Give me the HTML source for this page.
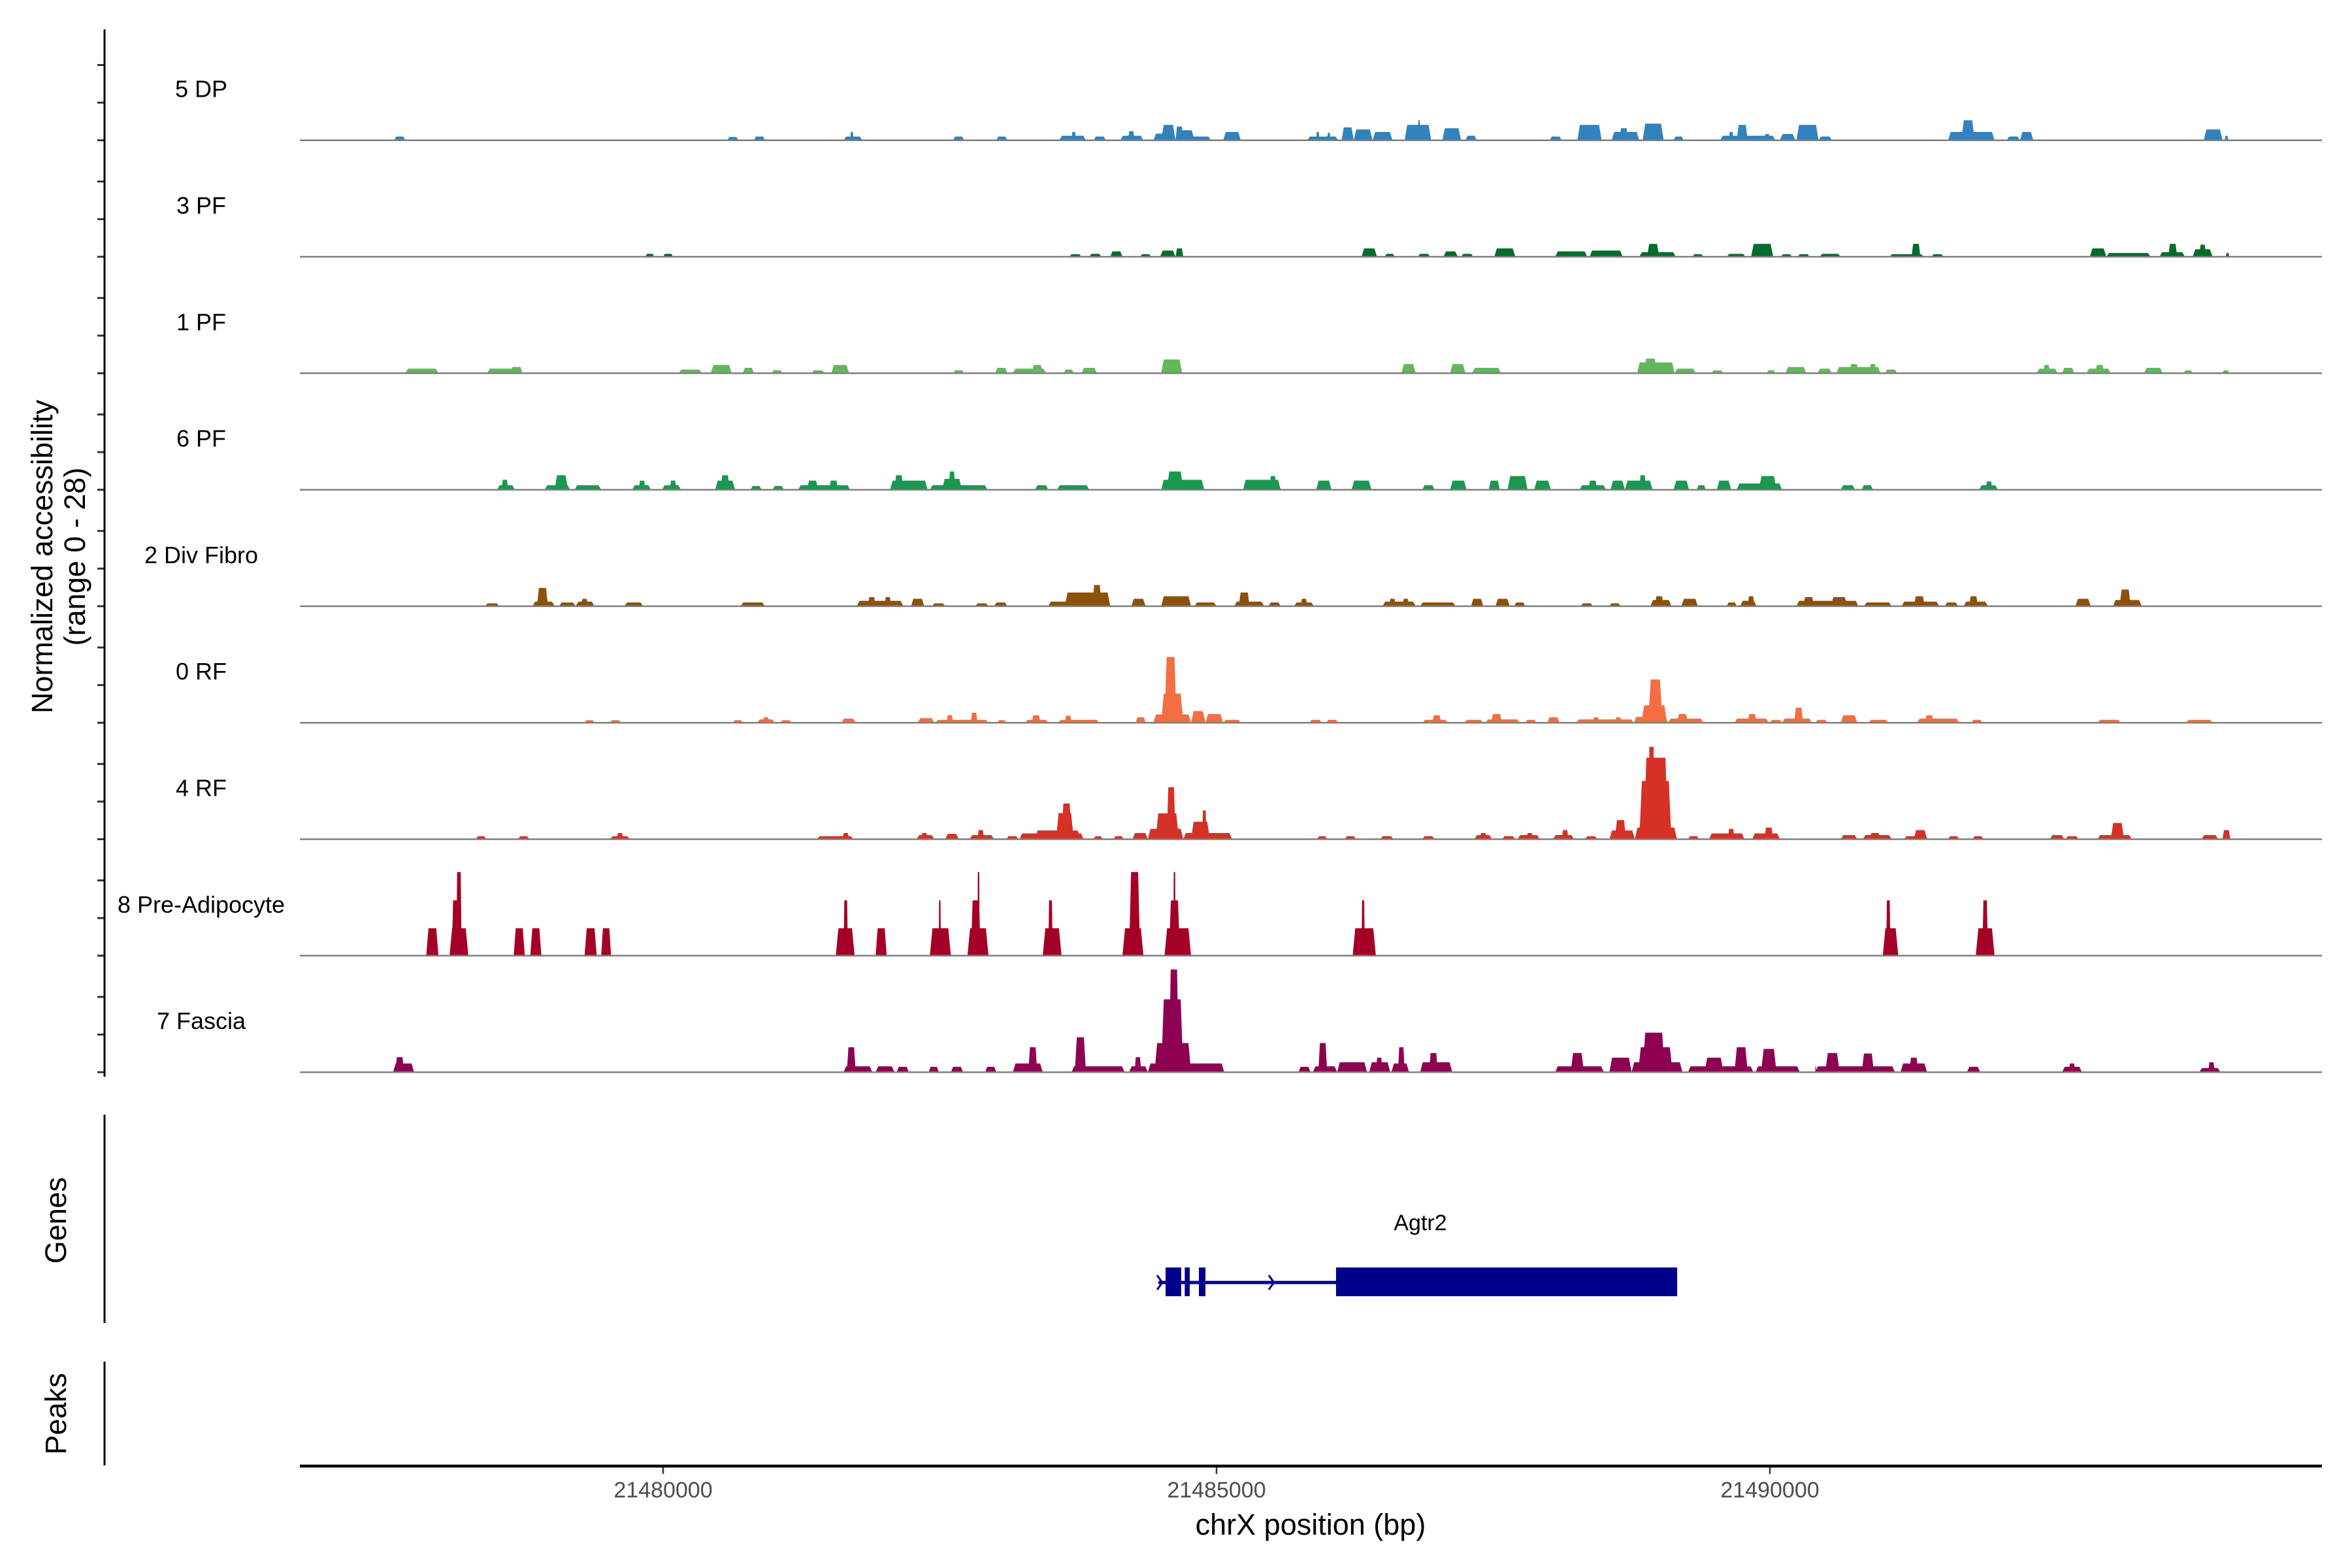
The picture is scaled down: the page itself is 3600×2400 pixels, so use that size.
<!DOCTYPE html>
<html><head><meta charset="utf-8"><style>
html,body{margin:0;padding:0;background:#fff;}
svg{display:block;font-family:"Liberation Sans",Arial,sans-serif;}
</style></head><body>
<svg id="chart" width="3600" height="2400" viewBox="0 0 3600 2400" xmlns="http://www.w3.org/2000/svg">
<rect width="3600" height="2400" fill="#fff"/>
<g id="tracks"></g>
<g id="axes"></g>
<text transform="translate(80,852) rotate(-90)" font-size="45" text-anchor="middle"><tspan x="0" dy="0">Normalized accessibility</tspan><tspan x="0" dy="50">(range 0 - 28)</tspan></text>
<text transform="translate(101,1868) rotate(-90)" font-size="45" text-anchor="middle">Genes</text>
<text transform="translate(101,2164) rotate(-90)" font-size="45" text-anchor="middle">Peaks</text>
<text x="2006" y="2349" font-size="45" text-anchor="middle">chrX position (bp)</text>
<text x="2174" y="1883" font-size="34" text-anchor="middle">Agtr2</text>
</svg>
<script>
// ---- data (positions in kb, values in normalized accessibility 0-28) ----
const trackNames = ["5 DP","3 PF","1 PF","6 PF","2 Div Fibro","0 RF","4 RF","8 Pre-Adipocyte","7 Fascia"];
const trackColors = ["#3182bd","#006d2c","#63b75d","#1a9850","#8c510a","#f46d43","#d73027","#a50026","#8e0152"];
const xTicks = [21480000,21485000,21490000];
const xTickLabels = ["21480000","21485000","21490000"];
const xDomain = [21476718,21494988];
const yRange = [0,28];
const dp5 = [[21477.57,21477.67,0.9],[21480.58,21480.68,0.8],[21480.82,21480.92,0.9],[21481.63,21481.80,0.9],[21481.69,21481.72,2.0],[21482.62,21482.72,0.9],[21483.01,21483.11,0.9],[21483.58,21483.82,1.1],[21483.69,21483.73,2.0],[21483.89,21484.00,0.9],[21484.13,21484.34,1.1],[21484.20,21484.26,2.2],[21484.43,21484.63,1.6],[21484.50,21484.63,3.7],[21484.63,21484.95,0.9],[21484.63,21484.80,2.4],[21484.63,21484.70,3.3],[21485.06,21485.22,2.0],[21485.82,21486.10,0.9],[21485.90,21485.93,2.0],[21486.00,21486.03,1.8],[21486.13,21486.24,3.1],[21486.24,21486.41,2.6],[21486.41,21486.59,2.0],[21486.70,21486.94,3.7],[21486.82,21486.84,4.8],[21487.04,21487.21,2.9],[21487.25,21487.35,1.1],[21488.01,21488.12,0.9],[21488.26,21488.48,3.7],[21488.57,21488.82,2.0],[21488.64,21488.72,2.9],[21488.85,21489.04,4.0],[21489.13,21489.22,0.9],[21489.55,21490.05,1.1],[21489.70,21489.80,3.7],[21489.63,21489.67,2.0],[21489.95,21490.00,1.5],[21490.09,21490.23,1.5],[21490.24,21490.44,3.7],[21490.44,21490.56,0.9],[21491.61,21492.03,2.0],[21491.73,21491.85,4.8],[21492.14,21492.26,0.9],[21492.26,21492.38,2.0],[21493.92,21494.09,2.6],[21494.11,21494.14,1.1]];
const pf3 = [[21479.84,21479.92,0.7],[21480.00,21480.09,0.7],[21483.67,21483.78,0.6],[21483.85,21483.96,0.7],[21484.04,21484.15,1.3],[21484.31,21484.41,0.6],[21484.49,21484.63,1.5],[21484.63,21484.70,2.0],[21486.31,21486.45,2.0],[21486.52,21486.61,0.7],[21486.82,21486.93,0.7],[21487.05,21487.18,1.3],[21487.21,21487.32,0.7],[21487.51,21487.70,2.0],[21488.06,21488.35,1.3],[21488.37,21488.67,1.5],[21488.82,21489.15,1.1],[21488.89,21489.00,3.1],[21489.30,21489.40,0.6],[21489.61,21489.78,0.7],[21489.83,21490.03,3.1],[21490.10,21490.20,0.6],[21490.25,21490.36,0.6],[21490.45,21490.64,0.7],[21491.08,21491.39,0.6],[21491.28,21491.36,3.1],[21491.46,21491.57,0.6],[21492.89,21493.04,2.0],[21493.04,21493.44,0.9],[21493.52,21493.75,1.1],[21493.60,21493.68,3.1],[21493.82,21494.00,1.8],[21493.88,21493.94,2.9],[21494.12,21494.15,0.9]];
const pf1 = [[21477.67,21477.97,1.1],[21478.41,21478.73,1.1],[21478.62,21478.73,1.5],[21480.14,21480.35,0.9],[21480.43,21480.62,2.0],[21480.72,21480.82,1.3],[21480.98,21481.08,0.7],[21481.34,21481.46,0.7],[21481.52,21481.68,2.0],[21482.62,21482.72,0.7],[21483.00,21483.11,1.3],[21483.16,21483.46,1.1],[21483.33,21483.43,2.0],[21483.62,21483.71,0.9],[21483.78,21483.92,1.3],[21484.50,21484.69,3.3],[21486.67,21486.80,2.2],[21487.11,21487.25,2.2],[21487.31,21487.57,1.3],[21488.80,21489.14,2.6],[21488.86,21488.98,3.5],[21489.14,21489.33,1.1],[21489.47,21489.58,0.7],[21489.97,21490.05,0.7],[21490.14,21490.33,1.5],[21490.43,21490.56,1.1],[21490.60,21491.00,1.5],[21490.72,21490.80,2.2],[21490.90,21490.96,2.2],[21491.04,21491.15,0.9],[21492.41,21492.60,1.1],[21492.47,21492.53,2.0],[21492.64,21492.75,1.3],[21492.86,21493.08,1.1],[21492.94,21493.02,2.0],[21493.38,21493.55,1.3],[21493.74,21493.82,0.7],[21494.09,21494.15,0.7]];
const pf6 = [[21478.50,21478.66,1.1],[21478.54,21478.60,2.4],[21478.93,21479.16,1.1],[21479.02,21479.14,3.5],[21479.20,21479.44,1.1],[21479.72,21479.89,1.1],[21479.78,21479.84,2.2],[21479.99,21480.16,1.1],[21480.06,21480.12,2.2],[21480.47,21480.65,2.2],[21480.52,21480.60,3.5],[21480.79,21480.89,0.9],[21480.99,21481.09,0.9],[21481.22,21481.69,1.1],[21481.30,21481.40,2.2],[21481.50,21481.58,2.2],[21482.05,21482.39,2.2],[21482.09,21482.17,3.5],[21482.41,21482.93,1.1],[21482.52,21482.70,2.6],[21482.58,21482.64,4.4],[21483.36,21483.48,1.1],[21483.56,21483.85,1.1],[21484.50,21484.89,2.4],[21484.55,21484.70,4.4],[21485.24,21485.58,2.4],[21485.48,21485.54,3.3],[21485.90,21486.04,2.2],[21486.22,21486.40,2.2],[21486.86,21486.97,1.1],[21487.11,21487.26,2.2],[21487.46,21487.56,2.2],[21487.63,21487.81,3.3],[21487.87,21488.02,2.2],[21488.28,21488.52,1.1],[21488.36,21488.44,2.2],[21488.56,21488.69,2.2],[21488.69,21488.94,2.2],[21488.82,21488.88,3.5],[21489.13,21489.27,2.2],[21489.34,21489.42,1.1],[21489.52,21489.65,2.2],[21489.70,21490.11,1.5],[21489.90,21490.06,3.3],[21490.64,21490.77,1.1],[21490.83,21490.93,1.1],[21491.89,21492.06,1.1],[21491.95,21492.01,2.0]];
const divFibro2 = [[21478.39,21478.52,0.7],[21478.82,21479.02,1.1],[21478.86,21478.96,4.4],[21479.06,21479.21,0.9],[21479.21,21479.38,1.1],[21479.26,21479.32,1.8],[21479.65,21479.82,0.9],[21480.70,21480.92,0.9],[21481.75,21482.17,1.3],[21481.85,21481.92,2.2],[21482.00,21482.06,2.2],[21482.24,21482.36,1.8],[21482.43,21482.55,0.7],[21482.82,21482.94,0.7],[21482.99,21483.11,0.9],[21483.48,21484.04,1.1],[21483.63,21484.04,3.3],[21483.88,21483.96,5.1],[21484.23,21484.36,1.8],[21484.50,21484.77,2.4],[21484.80,21485.00,0.9],[21485.16,21485.43,1.1],[21485.20,21485.30,3.3],[21485.47,21485.58,0.9],[21485.70,21485.88,0.9],[21485.76,21485.82,1.8],[21486.50,21486.80,1.1],[21486.56,21486.62,1.8],[21486.68,21486.74,1.8],[21486.84,21487.16,0.9],[21487.30,21487.41,1.8],[21487.52,21487.65,1.8],[21487.69,21487.79,0.9],[21488.29,21488.40,0.7],[21488.55,21488.65,0.7],[21488.92,21489.11,1.5],[21488.96,21489.04,2.4],[21489.20,21489.35,1.8],[21489.61,21489.70,0.9],[21489.73,21489.88,1.3],[21489.80,21489.86,2.4],[21490.24,21490.80,1.3],[21490.30,21490.40,2.2],[21490.55,21490.70,2.2],[21490.85,21491.10,0.9],[21491.19,21491.53,1.1],[21491.30,21491.40,2.4],[21491.58,21491.70,0.9],[21491.75,21491.97,1.1],[21491.80,21491.88,2.4],[21492.76,21492.90,1.8],[21493.10,21493.36,1.5],[21493.16,21493.26,4.0]];
const rf0 = [[21479.29,21479.38,0.6],[21479.52,21479.62,0.6],[21480.63,21480.72,0.6],[21480.85,21481.01,0.8],[21480.90,21480.96,1.3],[21481.06,21481.16,0.6],[21481.61,21481.74,1.0],[21482.30,21482.45,1.1],[21482.46,21482.94,0.7],[21482.56,21482.62,1.8],[21482.78,21482.84,2.4],[21483.02,21483.10,0.6],[21483.27,21483.48,0.7],[21483.33,21483.41,1.8],[21483.57,21483.94,0.7],[21483.63,21483.69,1.7],[21484.27,21484.36,1.3],[21484.43,21484.77,2.0],[21484.50,21484.70,7.0],[21484.53,21484.64,15.8],[21484.77,21484.90,2.8],[21484.90,21485.06,2.1],[21485.06,21485.22,0.7],[21485.84,21485.95,0.7],[21485.99,21486.10,0.7],[21486.86,21487.09,0.7],[21486.95,21487.03,1.8],[21487.24,21487.41,0.7],[21487.43,21487.74,0.8],[21487.48,21487.58,2.1],[21487.79,21487.89,0.7],[21487.99,21488.10,1.3],[21488.25,21488.77,0.8],[21488.40,21488.46,1.3],[21488.60,21488.66,1.3],[21488.77,21489.08,1.4],[21488.84,21489.07,4.2],[21488.90,21489.03,10.4],[21489.08,21489.40,1.0],[21489.16,21489.26,2.1],[21489.68,21489.99,1.0],[21489.80,21489.88,2.1],[21490.00,21490.11,0.7],[21490.11,21490.38,1.0],[21490.22,21490.30,3.6],[21490.41,21490.52,0.7],[21490.64,21490.79,1.8],[21490.89,21491.07,0.7],[21491.33,21491.71,1.0],[21491.40,21491.48,1.8],[21491.82,21491.92,0.7],[21492.96,21493.17,0.7],[21493.76,21494.00,0.7]];
const rf4 = [[21478.31,21478.40,0.7],[21478.69,21478.79,0.7],[21479.52,21479.70,0.7],[21479.58,21479.64,1.5],[21481.39,21481.72,0.7],[21481.62,21481.68,1.5],[21482.29,21482.45,1.0],[21482.33,21482.39,1.5],[21482.55,21482.67,1.3],[21482.77,21482.99,1.0],[21482.84,21482.90,2.2],[21483.10,21483.21,0.7],[21483.22,21483.80,1.4],[21483.36,21483.77,2.1],[21483.55,21483.71,6.3],[21483.60,21483.69,8.6],[21483.89,21483.97,0.7],[21484.07,21484.16,0.7],[21484.24,21484.38,1.5],[21484.38,21484.70,2.5],[21484.45,21484.66,6.2],[21484.55,21484.63,12.5],[21484.70,21485.14,1.5],[21484.77,21484.94,4.2],[21484.87,21484.91,6.9],[21485.91,21486.00,0.7],[21486.16,21486.26,0.7],[21486.48,21486.60,0.7],[21486.86,21486.97,0.7],[21487.33,21487.49,1.0],[21487.38,21487.44,1.5],[21487.58,21487.70,0.7],[21487.72,21487.92,1.0],[21487.80,21487.86,1.5],[21488.04,21488.23,1.0],[21488.12,21488.18,2.2],[21488.33,21488.44,0.7],[21488.55,21488.78,2.1],[21488.60,21488.70,4.6],[21488.78,21489.16,2.8],[21488.82,21489.11,14.0],[21488.86,21489.08,19.6],[21488.90,21488.96,22.2],[21489.26,21489.36,0.7],[21489.45,21489.77,1.4],[21489.62,21489.68,2.5],[21489.84,21490.09,1.4],[21489.95,21490.03,2.8],[21490.64,21490.79,1.0],[21490.84,21491.10,1.0],[21490.90,21491.00,1.5],[21491.21,21491.43,0.7],[21491.30,21491.42,2.2],[21491.61,21491.71,0.7],[21491.83,21491.93,0.7],[21492.53,21492.66,1.0],[21492.67,21492.79,0.7],[21492.96,21493.27,1.0],[21493.08,21493.20,3.9],[21493.90,21494.05,1.0],[21494.09,21494.16,2.2]];
const preAdipocyte8 = [[21477.86,21477.97,6.6],[21478.07,21478.24,6.6],[21478.09,21478.16,13.3],[21478.13,21478.18,20.1],[21478.65,21478.75,6.6],[21478.80,21478.90,6.6],[21479.29,21479.40,6.6],[21479.44,21479.53,6.6],[21481.56,21481.73,6.6],[21481.63,21481.67,13.3],[21481.92,21482.02,6.6],[21482.41,21482.60,6.6],[21482.49,21482.51,13.3],[21482.75,21482.94,6.6],[21482.78,21482.87,13.3],[21482.84,21482.86,20.1],[21483.43,21483.60,6.6],[21483.48,21483.52,13.3],[21484.15,21484.34,6.6],[21484.21,21484.31,20.1],[21484.53,21484.77,6.6],[21484.57,21484.67,13.3],[21484.61,21484.63,20.1],[21486.23,21486.44,6.6],[21486.31,21486.34,13.3],[21491.02,21491.16,6.6],[21491.05,21491.09,13.3],[21491.86,21492.03,6.6],[21491.92,21491.97,13.3]];
const fascia7 = [[21477.56,21477.75,2.1],[21477.58,21477.66,3.6],[21481.63,21481.89,1.4],[21481.66,21481.74,6.0],[21481.92,21482.09,1.4],[21482.11,21482.22,1.3],[21482.40,21482.49,1.3],[21482.60,21482.71,1.3],[21482.91,21483.01,1.3],[21483.16,21483.43,2.1],[21483.30,21483.38,6.0],[21483.69,21484.17,1.4],[21483.72,21483.82,8.4],[21484.21,21484.38,1.4],[21484.26,21484.32,3.6],[21484.38,21485.07,2.1],[21484.44,21484.77,7.0],[21484.50,21484.70,17.5],[21484.57,21484.66,24.7],[21485.74,21485.85,1.3],[21485.87,21486.09,1.4],[21485.92,21486.00,7.0],[21486.09,21486.36,2.4],[21486.38,21486.57,2.4],[21486.44,21486.50,3.5],[21486.58,21486.74,2.1],[21486.64,21486.70,6.0],[21486.84,21487.13,2.4],[21486.92,21487.00,4.6],[21488.06,21488.50,1.4],[21488.20,21488.32,4.6],[21488.55,21488.75,3.5],[21488.75,21489.21,2.4],[21488.81,21489.12,6.0],[21488.85,21489.05,9.5],[21489.26,21489.85,1.4],[21489.41,21489.58,3.5],[21489.68,21489.80,6.0],[21489.87,21490.27,1.4],[21489.92,21490.06,5.6],[21490.41,21490.41,1.4],[21490.41,21491.13,1.4],[21490.50,21490.63,4.6],[21490.83,21490.94,4.5],[21491.18,21491.42,2.1],[21491.26,21491.34,3.5],[21491.78,21491.90,1.3],[21492.64,21492.82,1.3],[21492.70,21492.76,2.1],[21493.88,21494.07,1.0],[21493.96,21494.02,2.4]];
const trackData = [dp5,pf3,pf1,pf6,divFibro2,rf0,rf4,preAdipocyte8,fascia7];
const geneExons = [[21484540,21484681],[21484713,21484758],[21484841,21484900],[21486080,21489162]];
const geneSpan = [21484475,21489162];
const geneArrows = [21484475,21485484];

// ---- layout ----
const NS = "http://www.w3.org/2000/svg";
const X0 = 459, X1 = 3554;
const firstBase = 214.7, trackStep = 178.3, trackH = 178.3;
function xScale(bp){ return X0 + (bp - xDomain[0]) / (xDomain[1]-xDomain[0]) * (X1 - X0); }
function xKb(kb){ return xScale(kb*1000); }
function yScale(v, base){ return base - (v - yRange[0])/(yRange[1]-yRange[0]) * trackH; }
function mk(tag, attrs, parent){
  const e = document.createElementNS(NS, tag);
  for (const k in attrs) e.setAttribute(k, attrs[k]);
  parent.appendChild(e);
  return e;
}
const gT = document.getElementById("tracks");
const gA = document.getElementById("axes");

trackNames.forEach((name, i) => {
  const base = firstBase + i*trackStep;
  const g = mk("g", {}, gT);
  
  
  trackData[i].forEach(seg => {
    const xa = xKb(seg[0]), xb = xKb(seg[1]);
    const w = Math.max(xb - xa, 1.5);
    const t = Math.min(w*0.18, 4);
    const yt = yScale(seg[2], base);
    const p = mk("polygon", {points: `${xa},${base} ${xa+t},${yt} ${xa+w-t},${yt} ${xa+w},${base}`, fill: trackColors[i]}, g);
    
    
  });
  const bl = mk("line", {x1:X0, x2:X1, y1:base, y2:base, stroke:"#7f7f7f", "stroke-width":2.5}, g);
  
  
  const lbl = mk("text", {x:308, y:base-66, "font-size":36, "text-anchor":"middle", fill:"#000"}, g);
  lbl.textContent = name;
  
  
  [0,57.6,115.2].forEach(off => {
    const tk = mk("line", {x1:149, x2:160, y1:base-off, y2:base-off, stroke:"#333", "stroke-width":3}, gA);
    
    
  });
});
const yAxis = mk("line", {x1:160, x2:160, y1:45, y2:1648, stroke:"#000", "stroke-width":3}, gA);


const gAxis = mk("line", {x1:160, x2:160, y1:1706, y2:2025, stroke:"#000", "stroke-width":3}, gA);


const pAxis = mk("line", {x1:160, x2:160, y1:2084, y2:2243, stroke:"#000", "stroke-width":3}, gA);



// gene model
const gg = mk("g", {}, gA);


const gl = mk("line", {x1:xScale(geneSpan[0]), x2:xScale(geneSpan[1]), y1:1963, y2:1963, stroke:"#00008b", "stroke-width":5}, gg);


geneExons.forEach(ex => {
  const r = mk("rect", {x:xScale(ex[0]), y:1940, width:xScale(ex[1])-xScale(ex[0]), height:44, fill:"#00008b"}, gg);
  
  
});
geneArrows.forEach(bp => {
  const x = xScale(bp);
  const a = mk("polyline", {points:`${x-2},${1952} ${x+6},${1963} ${x-2},${1974}`, fill:"none", stroke:"#00008b", "stroke-width":3}, gg);
  
  
});

// x axis
const xl = mk("line", {x1:X0, x2:X1, y1:2244, y2:2244, stroke:"#000", "stroke-width":4.5}, gA);


xTicks.forEach((bp, i) => {
  const x = xScale(bp);
  const t = mk("line", {x1:x, x2:x, y1:2246, y2:2256, stroke:"#333", "stroke-width":2.5}, gA);
  
  
  const tl = mk("text", {x:x, y:2292, "font-size":34, "text-anchor":"middle", fill:"#4d4d4d"}, gA);
  tl.textContent = xTickLabels[i];
  
  
});
</script>
</body></html>
